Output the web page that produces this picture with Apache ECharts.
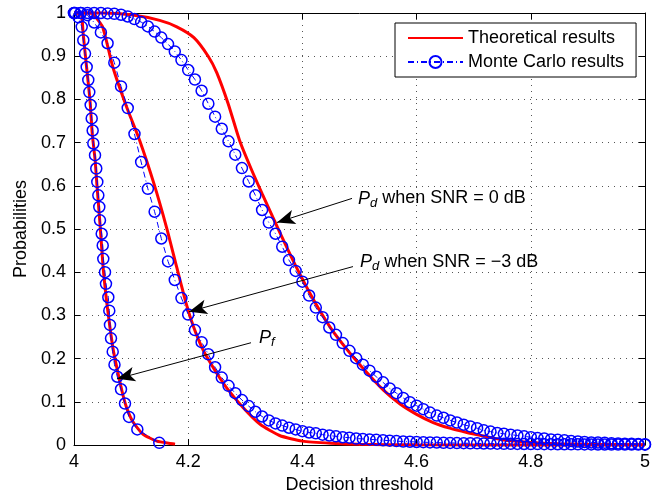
<!DOCTYPE html>
<html>
<head>
<meta charset="utf-8">
<script src="https://cdn.jsdelivr.net/npm/echarts@6/dist/echarts.min.js"></script>
<style>
html, body { margin: 0; padding: 0; background: #fff; }
#chart { width: 662px; height: 493px; }
</style>
</head>
<body>
<div id="chart"></div>
<script>
// theoretical curves
var th0dbX = [4.00, 4.05, 4.10, 4.15, 4.18, 4.21, 4.235, 4.25, 4.27, 4.29, 4.31, 4.33, 4.35, 4.37, 4.39, 4.42, 4.45, 4.48, 4.51, 4.542, 4.571, 4.60, 4.629, 4.658, 4.688, 4.717, 4.75, 4.80, 4.85, 4.90, 5.00];
var th0dbY = [1.0, 1.0, 0.996, 0.983, 0.968, 0.943, 0.9, 0.862, 0.79, 0.705, 0.64, 0.58, 0.522, 0.465, 0.41, 0.335, 0.27, 0.218, 0.172, 0.127, 0.095, 0.071, 0.052, 0.039, 0.029, 0.021, 0.012, 0.006, 0.003, 0.0015, 0.0005];

var th3dbX = [4.00, 4.03, 4.035, 4.05, 4.068, 4.092, 4.115, 4.14, 4.162, 4.18, 4.197, 4.209, 4.226, 4.244, 4.267, 4.296, 4.326, 4.36, 4.40, 4.45, 4.50, 4.60, 5.00];
var th3dbY = [1.0, 1.0, 0.995, 0.968, 0.875, 0.783, 0.705, 0.605, 0.504, 0.411, 0.325, 0.275, 0.22, 0.179, 0.133, 0.087, 0.048, 0.022, 0.009, 0.004, 0.0015, 0.0005, 0.0];

var thPfX = [4.00, 4.01, 4.0135, 4.016, 4.022, 4.028, 4.032, 4.037, 4.040, 4.046, 4.051, 4.057, 4.063, 4.069, 4.075, 4.084, 4.092, 4.104, 4.121, 4.145, 4.177];
var thPfY = [1.0, 1.0, 0.995, 0.953, 0.875, 0.798, 0.72, 0.659, 0.605, 0.504, 0.411, 0.334, 0.272, 0.218, 0.179, 0.125, 0.087, 0.052, 0.025, 0.009, 0.002];

// Monte Carlo results
var mcThreshold = [4.0000, 4.0118, 4.0235, 4.0353, 4.0471, 4.0588, 4.0706, 4.0824, 4.0941, 4.1059,
    4.1176, 4.1294, 4.1412, 4.1529, 4.1647, 4.1765, 4.1882, 4.2000, 4.2118, 4.2235,
    4.2353, 4.2471, 4.2588, 4.2706, 4.2824, 4.2941, 4.3059, 4.3176, 4.3294, 4.3412,
    4.3529, 4.3647, 4.3765, 4.3882, 4.4000, 4.4118, 4.4235, 4.4353, 4.4471, 4.4588,
    4.4706, 4.4824, 4.4941, 4.5059, 4.5176, 4.5294, 4.5412, 4.5529, 4.5647, 4.5765,
    4.5882, 4.6000, 4.6118, 4.6235, 4.6353, 4.6471, 4.6588, 4.6706, 4.6824, 4.6941,
    4.7059, 4.7176, 4.7294, 4.7412, 4.7529, 4.7647, 4.7765, 4.7882, 4.8000, 4.8118,
    4.8235, 4.8353, 4.8471, 4.8588, 4.8706, 4.8824, 4.8941, 4.9059, 4.9176, 4.9294,
    4.9412, 4.9529, 4.9647, 4.9765, 4.9882, 5.0000];
var mc0dbY = [1.0, 1.0, 1.0, 1.0, 1.0, 0.999, 0.998, 0.996, 0.992, 0.986,
    0.979, 0.969, 0.957, 0.943, 0.928, 0.911, 0.891, 0.868, 0.846, 0.82,
    0.79, 0.76, 0.732, 0.703, 0.672, 0.641, 0.61, 0.578, 0.544, 0.515,
    0.489, 0.459, 0.428, 0.403, 0.378, 0.346, 0.318, 0.296, 0.272, 0.255,
    0.236, 0.218, 0.201, 0.186, 0.172, 0.158, 0.145, 0.131, 0.12, 0.109,
    0.099, 0.091, 0.083, 0.075, 0.068, 0.063, 0.057, 0.052, 0.047, 0.043,
    0.039, 0.034, 0.031, 0.028, 0.026, 0.024, 0.022, 0.02, 0.018, 0.016,
    0.015, 0.013, 0.012, 0.011, 0.009, 0.008, 0.007, 0.006, 0.0055, 0.005,
    0.004, 0.0035, 0.003, 0.0028, 0.0025, 0.002];
var mc3dbY = [1.0, 1.0, 0.995, 0.978, 0.955, 0.93, 0.885, 0.83, 0.78, 0.72,
    0.655, 0.593, 0.54, 0.478, 0.425, 0.382, 0.34, 0.302, 0.266, 0.238,
    0.21, 0.18, 0.156, 0.137, 0.12, 0.104, 0.09, 0.077, 0.066, 0.057,
    0.05, 0.045, 0.04, 0.036, 0.032, 0.029, 0.027, 0.024, 0.022, 0.02,
    0.018, 0.017, 0.015, 0.014, 0.013, 0.012, 0.011, 0.01, 0.009, 0.008,
    0.0075, 0.007, 0.0065, 0.006, 0.0055, 0.005, 0.0048, 0.0045, 0.0042, 0.004,
    0.0038, 0.0035, 0.0033, 0.003, 0.0028, 0.0027, 0.0025, 0.0024, 0.0022, 0.0021,
    0.002, 0.0019, 0.0018, 0.0017, 0.0016, 0.0015, 0.0014, 0.0013, 0.0012, 0.0012,
    0.0011, 0.001, 0.001, 0.0009, 0.0009, 0.0008];
var mcPfX = [4.002, 4.008, 4.0135, 4.0163, 4.0193, 4.0222, 4.025, 4.0268, 4.0292, 4.031,
    4.0327, 4.0338, 4.0368, 4.039, 4.0408, 4.0426, 4.0443, 4.0455, 4.0485, 4.0503,
    4.0513, 4.0543, 4.056, 4.0601, 4.0618, 4.063, 4.0648, 4.0678, 4.0709, 4.0758,
    4.0823, 4.0893, 4.0963, 4.1109, 4.1494];
var mcPfY = [1.0, 0.99, 0.968, 0.937, 0.906, 0.875, 0.845, 0.817, 0.787, 0.756,
    0.728, 0.698, 0.671, 0.64, 0.609, 0.578, 0.551, 0.52, 0.489, 0.462,
    0.431, 0.4, 0.373, 0.342, 0.311, 0.278, 0.247, 0.216, 0.186, 0.158,
    0.129, 0.096, 0.065, 0.036, 0.005];

// annotation arrows [tail, tip] in data units
var arrow0db = [[4.4869, 0.5708], [4.3555, 0.5151]];
var arrow3db = [[4.4886, 0.413], [4.2014, 0.3086]];
var arrowPf = [[4.31, 0.2367], [4.0753, 0.1531]];

function pairs(xs, ys) {
    return xs.map(function (x, i) { return [x, ys[i]]; });
}

var font = 'Liberation Sans, Arial, Helvetica, sans-serif';
var dots = { type: [1, 5], color: '#555', width: 1 };
var black = { color: '#000', width: 1 };

var theoStyle = {
    name: 'Theoretical results',
    type: 'line',
    symbol: 'none',
    showSymbol: false,
    smooth: 0.2,
    clip: false,
    z: 2,
    lineStyle: { color: '#ff0000', width: 3 },
    itemStyle: { color: '#ff0000' }
};
var mcStyle = {
    name: 'Monte Carlo results',
    type: 'line',
    symbol: 'circle',
    symbolSize: 11,
    showSymbol: true,
    showAllSymbol: true,
    clip: false,
    z: 3,
    lineStyle: { color: '#0000ff', width: 1, type: [6, 3, 1, 3] },
    itemStyle: { color: 'rgba(0,0,0,0)', borderColor: '#0000ff', borderWidth: 1.5 }
};

var richAnn = {
    p: { fontFamily: font, fontSize: 18, fontStyle: 'italic', lineHeight: 22, color: '#000' },
    s: { fontFamily: font, fontSize: 13, fontStyle: 'italic', lineHeight: 13, verticalAlign: 'bottom', color: '#000' },
    t: { fontFamily: font, fontSize: 18, lineHeight: 22, color: '#000' }
};

function annText(x, y, text) {
    return {
        type: 'text', x: x, y: y, z: 10,
        style: { text: text, rich: richAnn, textAlign: 'left', textVerticalAlign: 'middle', align: 'left', verticalAlign: 'middle' }
    };
}

var myChart = echarts.init(document.getElementById('chart'));
var option = {
    animation: false,
    textStyle: { fontFamily: font },
    grid: { left: 74, right: 17, top: 13, bottom: 48, containLabel: false, outerBoundsMode: 'none' },
    legend: {
        orient: 'vertical',
        left: 395,
        top: 23,
        padding: [6, 12, 6, 12],
        itemGap: 6,
        itemWidth: 55,
        itemHeight: 15,
        itemTextGap: 6,
        borderColor: '#000',
        borderWidth: 1,
        backgroundColor: '#fff',
        textStyle: { fontFamily: font, fontSize: 18, color: '#000' },
        data: [
            { name: 'Theoretical results', itemStyle: { opacity: 0 } },
            { name: 'Monte Carlo results' }
        ]
    },
    xAxis: [{
        type: 'value', min: 4, max: 5, interval: 0.2, position: 'bottom',
        axisLine: { onZero: false, lineStyle: black },
        axisTick: { inside: true, length: 6, lineStyle: black },
        axisLabel: { color: '#000', fontSize: 18, margin: 8 },
        splitLine: { show: true, lineStyle: dots },
        name: 'Decision threshold', nameLocation: 'middle', nameGap: 30,
        nameTextStyle: { fontSize: 18, color: '#000' }
    }, {
        type: 'value', min: 4, max: 5, interval: 0.2, position: 'top',
        axisLine: { onZero: false, lineStyle: black },
        axisTick: { inside: true, length: 6, lineStyle: black },
        axisLabel: { show: false },
        splitLine: { show: false }
    }],
    yAxis: [{
        type: 'value', min: 0, max: 1, interval: 0.1, position: 'left',
        axisLine: { show: true, onZero: false, lineStyle: black },
        axisTick: { show: true, inside: true, length: 6, lineStyle: black },
        axisLabel: { color: '#000', fontSize: 18, margin: 8 },
        splitLine: { show: true, lineStyle: dots },
        name: 'Probabilities', nameLocation: 'middle', nameGap: 43,
        nameTextStyle: { fontSize: 18, color: '#000' }
    }, {
        type: 'value', min: 0, max: 1, interval: 0.1, position: 'right',
        axisLine: { show: true, onZero: false, lineStyle: black },
        axisTick: { show: true, inside: true, length: 6, lineStyle: black },
        axisLabel: { show: false },
        splitLine: { show: false }
    }],
    series: [
        Object.assign({}, theoStyle, { data: pairs(th0dbX, th0dbY) }),
        Object.assign({}, theoStyle, { data: pairs(th3dbX, th3dbY) }),
        Object.assign({}, theoStyle, { data: pairs(thPfX, thPfY) }),
        Object.assign({}, mcStyle, { data: pairs(mcThreshold, mc0dbY) }),
        Object.assign({}, mcStyle, { data: pairs(mcThreshold, mc3dbY) }),
        Object.assign({}, mcStyle, {
            data: pairs(mcPfX, mcPfY),
            markLine: {
                silent: true,
                symbol: ['none', 'arrow'],
                symbolSize: [11, 18],
                lineStyle: { color: '#000', width: 1, type: 'solid' },
                label: { show: false },
                emphasis: { disabled: true },
                data: [arrow0db, arrow3db, arrowPf].map(function (a) {
                    return [{ coord: a[0] }, { coord: a[1] }];
                })
            }
        })
    ],
    graphic: [
        annText(358, 198.5, '{p|P}{s|d}{t| when SNR = 0 dB}'),
        annText(360, 262, '{p|P}{s|d}{t| when SNR = \u22123 dB}'),
        annText(259, 338, '{p|P}{s|f}')
    ]
};

myChart.setOption(option);
</script>
</body>
</html>
